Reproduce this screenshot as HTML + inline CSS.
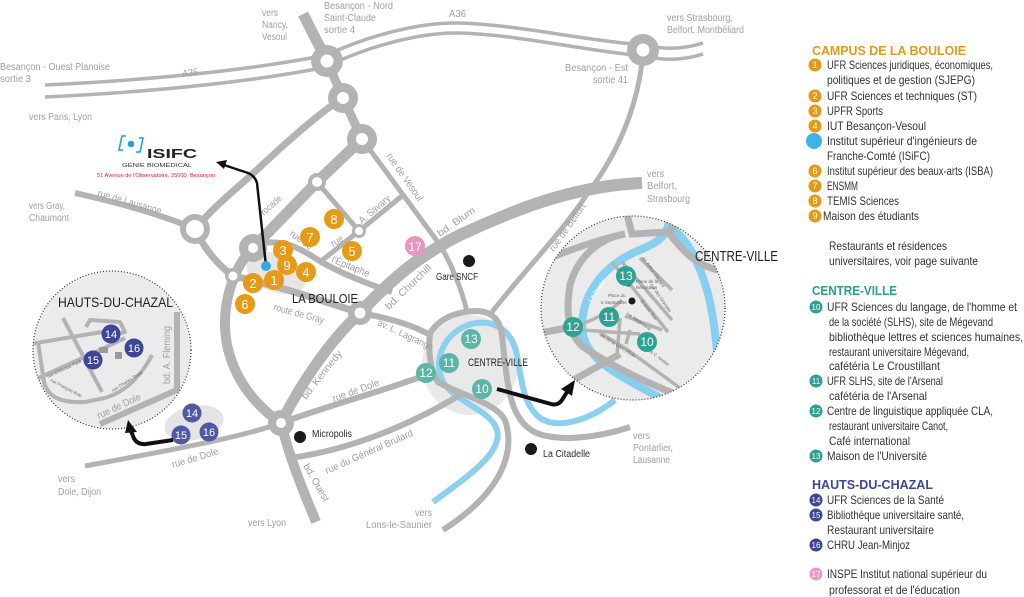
<!DOCTYPE html>
<html><head><meta charset="utf-8">
<style>
html,body{margin:0;padding:0;background:#fff;}
svg{display:block;}
text{font-family:"Liberation Sans",sans-serif;}
.g{fill:#a0a0a0;font-size:10px;}
.d{fill:#2a2a2a;font-size:10px;}
.lg{fill:#333;font-size:12px;}
.n{fill:#fff;text-anchor:middle;}
.t{font-size:4.5px;fill:#666;}
</style></head><body>
<svg width="1024" height="597" viewBox="0 0 1024 597" xmlns="http://www.w3.org/2000/svg">
<rect width="1024" height="597" fill="#fff"/>

<!-- blobs -->
<ellipse cx="470" cy="365" rx="48" ry="50" fill="#e9e9e9"/>
<ellipse cx="276" cy="273" rx="31" ry="19" transform="rotate(22 276 273)" fill="#e6e6e6"/>
<ellipse cx="194" cy="423" rx="30" ry="17" transform="rotate(-12 194 423)" fill="#e4e4e4"/>

<!-- river main -->
<path d="M433,502 C470,475 503,452 497,430 C491,410 455,402 443,382 C433,362 442,335 468,325 C493,317 512,330 517,355 C522,385 524,405 540,418 C558,430 590,420 615,400" fill="none" stroke="#8ccfef" stroke-width="6"/>

<!-- roads -->
<g fill="none" stroke="#b3b3b3" stroke-linejoin="round">
  <g stroke-width="3.5">
    <path d="M45,85 C150,80 250,70 327,55"/>
    <path d="M45,97 C150,92 250,82 327,67"/>
    <path d="M327,55 C370,35 420,22 460,23 C520,25 580,40 643,45"/>
    <path d="M327,66 C370,46 420,32 460,33 C520,35 580,50 643,56"/>
    <path d="M643,45 C665,50 685,49 703,43"/>
    <path d="M643,56 C665,61 685,60 703,54"/>
  </g>
  <path d="M303,14 L327,61" stroke-width="11"/>
  <path d="M327,61 L343,98 L362,139" stroke-width="9"/>
  <path d="M362,139 L317,182 L253,248" stroke-width="11"/>
  <path d="M253,248 C238,262 226,290 225,320 C224,355 240,395 281,423" stroke-width="10"/>
  <path d="M281,423 C290,460 305,495 316,522" stroke-width="10"/>
  <path d="M281,423 C300,385 330,340 360,313" stroke-width="11"/>
  <path d="M360,313 C390,280 420,255 460,235 C510,212 570,186 642,183" stroke-width="12"/>
  <path d="M343,98 C320,112 280,148 260,167 S215,205 198,226" stroke-width="7"/>
  <path d="M75,193 C120,203 160,214 195,229" stroke-width="6"/>
  <path d="M195,229 C205,250 218,265 233,276" stroke-width="7"/>
  <path d="M233,276 C275,285 320,300 360,313" stroke-width="7"/>
  <path d="M262,243 C285,240 300,248 318,260 C340,273 365,283 392,292" stroke-width="6"/>
  <path d="M317,182 L359,231" stroke-width="5"/>
  <path d="M359,231 L320,262" stroke-width="5"/>
  <path d="M359,231 L402,196" stroke-width="5"/>
  <path d="M362,139 L440,245 C452,265 462,290 467,312" stroke-width="5"/>
  <path d="M360,313 C390,318 415,326 432,336" stroke-width="6"/>
  <path d="M281,423 C330,405 380,392 426,375" stroke-width="6"/>
  <path d="M281,423 C240,438 160,452 85,466" stroke-width="5"/>
  <path d="M290,458 C350,450 410,425 460,395" stroke-width="6"/>
  <path d="M643,50 C640,100 620,150 590,190 C560,235 525,270 492,312" stroke-width="5"/>
  <path d="M430,333 C428,350 430,370 438,382 C460,395 495,402 505,420 C515,450 505,490 443,530" stroke-width="6"/>
  <path d="M430,333 C440,318 455,312 475,311 C492,311 500,320 502,335 C505,365 508,395 515,410 C525,432 540,438 570,438 C595,437 615,432 630,427" stroke-width="6"/>
</g>

<!-- roundabouts -->
<g fill="#b3b3b3">
  <circle cx="327" cy="61" r="16"/><circle cx="343" cy="98" r="15"/><circle cx="362" cy="139" r="15"/>
  <circle cx="643" cy="50" r="16"/><circle cx="317" cy="182" r="9"/><circle cx="195" cy="229" r="15"/>
  <circle cx="253" cy="248" r="14"/><circle cx="233" cy="276" r="8"/><circle cx="359" cy="231" r="7"/>
  <circle cx="360" cy="313" r="12"/><circle cx="281" cy="423" r="13"/>
</g>
<g fill="#fff">
  <circle cx="327" cy="61" r="6.5"/><circle cx="343" cy="98" r="6"/><circle cx="362" cy="139" r="6"/>
  <circle cx="643" cy="50" r="6.5"/><circle cx="317" cy="182" r="5"/><circle cx="195" cy="229" r="9"/>
  <circle cx="253" cy="248" r="5"/><circle cx="233" cy="276" r="4.5"/><circle cx="359" cy="231" r="4"/>
  <circle cx="360" cy="313" r="5.5"/><circle cx="281" cy="423" r="5"/>
</g>

<!-- map labels -->
<g class="g">
  <text x="262" y="16" textLength="16" lengthAdjust="spacingAndGlyphs">vers</text>
  <text x="262" y="28" textLength="26" lengthAdjust="spacingAndGlyphs">Nancy,</text>
  <text x="262" y="40" textLength="25" lengthAdjust="spacingAndGlyphs">Vesoul</text>
  <text x="324" y="9" textLength="69" lengthAdjust="spacingAndGlyphs">Besançon - Nord</text>
  <text x="324" y="21" textLength="52" lengthAdjust="spacingAndGlyphs">Saint-Claude</text>
  <text x="324" y="33" textLength="31" lengthAdjust="spacingAndGlyphs">sortie 4</text>
  <text x="449" y="17" textLength="17" lengthAdjust="spacingAndGlyphs">A36</text>
  <text x="182" y="76" textLength="16" lengthAdjust="spacingAndGlyphs" transform="rotate(-8 190 72)">A36</text>
  <text x="0" y="70" textLength="110" lengthAdjust="spacingAndGlyphs">Besançon - Ouest Planoise</text>
  <text x="0" y="82" textLength="31" lengthAdjust="spacingAndGlyphs">sortie 3</text>
  <text x="29" y="120" textLength="63" lengthAdjust="spacingAndGlyphs">vers Paris, Lyon</text>
  <text x="667" y="21" textLength="66" lengthAdjust="spacingAndGlyphs">vers Strasbourg,</text>
  <text x="667" y="33" textLength="77" lengthAdjust="spacingAndGlyphs">Belfort, Montbéliard</text>
  <text x="565" y="71" textLength="63" lengthAdjust="spacingAndGlyphs">Besançon - Est</text>
  <text x="593" y="83" textLength="35" lengthAdjust="spacingAndGlyphs">sortie 41</text>
  <text x="647" y="177" textLength="17" lengthAdjust="spacingAndGlyphs">vers</text>
  <text x="647" y="189" textLength="30" lengthAdjust="spacingAndGlyphs">Belfort,</text>
  <text x="647" y="202" textLength="43" lengthAdjust="spacingAndGlyphs">Strasbourg</text>
  <text x="29" y="209" textLength="36" lengthAdjust="spacingAndGlyphs">vers Gray,</text>
  <text x="29" y="221" textLength="40" lengthAdjust="spacingAndGlyphs">Chaumont</text>
  <text x="97" y="196" textLength="66" lengthAdjust="spacingAndGlyphs" transform="rotate(16 97 196)">rue de Lausanne</text>
  <text x="264" y="216" textLength="25" lengthAdjust="spacingAndGlyphs" transform="rotate(-42 264 216)">rocade</text>
  <text x="386" y="156" textLength="56" lengthAdjust="spacingAndGlyphs" transform="rotate(55 386 156)">rue de Vesoul</text>
  <text x="362" y="224" textLength="38" lengthAdjust="spacingAndGlyphs" transform="rotate(-40 362 224)">A. Savary</text>
  <text x="289" y="235" textLength="26" lengthAdjust="spacingAndGlyphs" transform="rotate(36 289 235)">rue de</text>
  <text x="333" y="247" textLength="13" lengthAdjust="spacingAndGlyphs" transform="rotate(-30 333 247)">rue</text>
  <text x="331" y="262" textLength="40" lengthAdjust="spacingAndGlyphs" transform="rotate(22 331 262)">l'Épitaphe</text>
  <text x="440" y="237" textLength="44" lengthAdjust="spacingAndGlyphs" transform="rotate(-35 440 237)">bd. Blum</text>
  <text x="554" y="252" textLength="56" lengthAdjust="spacingAndGlyphs" transform="rotate(-55 554 252)">rue de Belfort</text>
  <text x="389" y="310" textLength="60" lengthAdjust="spacingAndGlyphs" transform="rotate(-44 389 310)">bd. Churchill</text>
  <text x="377" y="325" textLength="60" lengthAdjust="spacingAndGlyphs" transform="rotate(25 377 325)">av. L. Lagrange</text>
  <text x="273" y="310" textLength="52" lengthAdjust="spacingAndGlyphs" transform="rotate(15 273 310)">route de Gray</text>
  <text x="306" y="400" textLength="59" lengthAdjust="spacingAndGlyphs" transform="rotate(-52 306 400)">bd. Kennedy</text>
  <text x="334" y="402" textLength="49" lengthAdjust="spacingAndGlyphs" transform="rotate(-20 334 402)">rue de Dole</text>
  <text x="327" y="474" textLength="95" lengthAdjust="spacingAndGlyphs" transform="rotate(-24 327 474)">rue du Général Brulard</text>
  <text x="303" y="466" textLength="42" lengthAdjust="spacingAndGlyphs" transform="rotate(60 303 466)">bd. Ouest</text>
  <text x="248" y="526" textLength="38" lengthAdjust="spacingAndGlyphs">vers Lyon</text>
  <text x="415" y="516" textLength="17" lengthAdjust="spacingAndGlyphs">vers</text>
  <text x="366" y="528" textLength="66" lengthAdjust="spacingAndGlyphs">Lons-le-Saunier</text>
  <text x="58" y="482" textLength="17" lengthAdjust="spacingAndGlyphs">vers</text>
  <text x="58" y="495" textLength="43" lengthAdjust="spacingAndGlyphs">Dole, Dijon</text>
  <text x="173" y="468" textLength="48" lengthAdjust="spacingAndGlyphs" transform="rotate(-17 173 468)">rue de Dole</text>
  <text x="633" y="439" textLength="17" lengthAdjust="spacingAndGlyphs">vers</text>
  <text x="633" y="451" textLength="40" lengthAdjust="spacingAndGlyphs">Pontarlier,</text>
  <text x="633" y="463" textLength="37" lengthAdjust="spacingAndGlyphs">Lausanne</text>
</g>

<!-- black place dots -->
<g fill="#1a1a1a">
  <circle cx="469" cy="261" r="6"/><circle cx="300" cy="437" r="6"/><circle cx="531" cy="449" r="6"/>
</g>
<text class="d" x="436" y="280" textLength="42" lengthAdjust="spacingAndGlyphs">Gare SNCF</text>
<text class="d" x="312" y="437" textLength="40" lengthAdjust="spacingAndGlyphs">Micropolis</text>
<text class="d" x="543" y="457" textLength="47" lengthAdjust="spacingAndGlyphs">La Citadelle</text>
<text x="292" y="303" fill="#222" font-size="13" textLength="66" lengthAdjust="spacingAndGlyphs">LA BOULOIE</text>
<text x="468" y="366" fill="#222" font-size="11" textLength="60" lengthAdjust="spacingAndGlyphs">CENTRE-VILLE</text>

<!-- ISIFC logo -->
<path d="M126,136 L122,136 L119,150 L123,150" fill="none" stroke="#1da1d8" stroke-width="1.6"/>
<path d="M139,138 L143,138 L140,152 L136,152" fill="none" stroke="#1da1d8" stroke-width="1.6"/>
<circle cx="131" cy="144" r="3.3" fill="#1da1d8"/>
<text x="147" y="158" font-size="13" font-weight="bold" fill="#222" textLength="50" lengthAdjust="spacingAndGlyphs">ISIFC</text>
<text x="122" y="167" font-size="5.5" fill="#333" textLength="70" lengthAdjust="spacingAndGlyphs">GÉNIE BIOMÉDICAL</text>
<text x="97" y="177" font-size="5.5" fill="#e41e26" textLength="118" lengthAdjust="spacingAndGlyphs">51 Avenue de l'Observatoire, 25000, Besançon</text>

<!-- ISIFC arrow -->
<path d="M266,266 L257,183 Q255,176 248,173 L224,165" fill="none" stroke="#111" stroke-width="2.5"/>
<polygon points="216,162 227,160 224,169" fill="#111"/>
<circle cx="266" cy="266" r="5" fill="#31a9e0"/>

<!-- orange campus circles -->
<g fill="#e69a17">
  <circle cx="334" cy="219" r="10"/><circle cx="310" cy="237" r="10"/><circle cx="283" cy="250" r="10"/>
  <circle cx="352" cy="251" r="10"/><circle cx="306" cy="272" r="10"/><circle cx="287" cy="265" r="10"/>
  <circle cx="253" cy="283" r="10"/><circle cx="274" cy="280" r="10"/><circle cx="245" cy="304" r="10"/>
</g>
<g class="n" font-size="13">
  <text x="334" y="224">8</text><text x="310" y="242">7</text><text x="283" y="255">3</text>
  <text x="352" y="256">5</text><text x="306" y="277">4</text><text x="287" y="270">9</text>
  <text x="253" y="288">2</text><text x="274" y="285">1</text><text x="245" y="309">6</text>
</g>
<circle cx="415" cy="246" r="10" fill="#e895c0"/>
<text class="n" x="415" y="251" font-size="12">17</text>

<!-- teal centre circles -->
<g fill="#5bb6a8">
  <circle cx="471" cy="339" r="10"/><circle cx="449" cy="363" r="10"/><circle cx="426" cy="373" r="10"/><circle cx="482" cy="389" r="10"/>
</g>
<g class="n" font-size="12">
  <text x="471" y="343">13</text><text x="449" y="367">11</text><text x="426" y="377">12</text><text x="482" y="393">10</text>
</g>

<!-- navy hauts circles -->
<g fill="#5058a8">
  <circle cx="192" cy="413" r="9.5"/><circle cx="181" cy="435" r="9.5"/><circle cx="209" cy="432" r="9.5"/>
</g>
<g class="n" font-size="11">
  <text x="192" y="417">14</text><text x="181" y="439">15</text><text x="209" y="436">16</text>
</g>

<!-- Centre-ville inset -->
<defs>
  <clipPath id="cc"><circle cx="633" cy="308" r="92"/></clipPath>
  <clipPath id="ch"><circle cx="112" cy="350" r="79"/></clipPath>
</defs>
<circle cx="633" cy="308" r="92" fill="#ebebeb"/>
<g clip-path="url(#cc)" fill="none">
  <path d="M667,402 C630,380 590,365 583,335 C578,300 600,268 635,252 C655,244 665,238 668,226 C686,236 698,260 707,290 C715,320 716,345 719,368" stroke="#86cff0" stroke-width="8"/>
  <g stroke="#b3b3b3" stroke-width="7">
    <path d="M540,262 C565,252 595,240 625,234"/>
    <path d="M625,234 C600,238 578,256 570,285 C565,315 570,335 582,346 C605,362 640,380 680,396"/>
    <path d="M626,210 L632,234 L668,232 L688,212"/>
    <path d="M668,232 C682,250 695,265 718,270"/>
    <path d="M540,333 L572,327"/>
    <path d="M570,382 L620,354"/>
  </g>
  <g stroke="#b3b3b3" stroke-width="3.5">
    <path d="M612,262 L668,332"/>
    <path d="M622,262 L672,320"/>
    <path d="M640,258 L672,290"/>
    <path d="M582,330 L640,334"/>
    <path d="M600,333 L625,348 L680,388"/>
    <path d="M620,318 L617,356"/>
    <path d="M625,316 L662,330"/>
    <path d="M630,330 L626,344"/>
    <path d="M573,327 C590,322 610,312 622,300"/>
  </g>
</g>
<circle cx="633" cy="308" r="92" fill="none" stroke="#333" stroke-width="1.2" stroke-dasharray="1 2"/>
<circle cx="628" cy="283" r="3.5" fill="#1a1a1a"/>
<circle cx="632" cy="301" r="3.5" fill="#1a1a1a"/>
<text class="t" x="636" y="283">Place de la</text>
<text class="t" x="636" y="289">Révolution</text>
<text class="t" x="608" y="297">Place du</text>
<text class="t" x="601" y="304">8 Septembre</text>
<text class="t" x="642" y="258" transform="rotate(55 642 258)">av. Arthur Gaulard</text>
<text class="t" x="650" y="285" transform="rotate(55 650 285)">rue des Granges</text>
<text class="t" x="640" y="301" transform="rotate(52 640 301)">Grande Rue</text>
<text class="t" x="626" y="314" transform="rotate(35 626 314)">rue Mégevand</text>
<text class="t" x="600" y="336" transform="rotate(32 600 336)">av. de la Gare d'Eau</text>
<text class="t" x="647" y="350" transform="rotate(38 647 350)">rue C. Nodier</text>
<text x="591" y="302" font-size="6" fill="#fff" transform="rotate(-55 591 302)">Le Doubs</text>
<text x="695" y="261" fill="#222" font-size="15" textLength="83" lengthAdjust="spacingAndGlyphs">CENTRE-VILLE</text>
<g fill="#2ea394">
  <circle cx="626" cy="276" r="10"/><circle cx="609" cy="317" r="10"/><circle cx="573" cy="327" r="10"/><circle cx="647" cy="342" r="10"/>
</g>
<g class="n" font-size="12">
  <text x="626" y="280">13</text><text x="609" y="321">11</text><text x="573" y="331">12</text><text x="647" y="346">10</text>
</g>

<!-- centre arrow -->
<path d="M497,389 L551,404 Q558,406 562,400 L567,392" fill="none" stroke="#111" stroke-width="4"/>
<polygon points="575,380 572,396 561,389" fill="#111"/>

<!-- Hauts-du-Chazal inset -->
<circle cx="112" cy="350" r="79" fill="#ebebeb"/>
<g clip-path="url(#ch)" fill="none" stroke="#b3b3b3" stroke-width="4" stroke-linejoin="round">
  <path d="M30,344 L102,332"/>
  <path d="M63,318 L102,392"/>
  <path d="M38,342 L44,382 C48,398 62,403 85,402 L105,398"/>
  <path d="M30,382 L100,350 L125,338"/>
  <path d="M105,398 C125,392 140,378 152,355"/>
  <path d="M86,327 L90,320 L120,322 L125,332 L108,337"/>
  <path d="M177,312 L177,390 L100,424" stroke-width="6"/>
</g>
<rect x="99" y="347" width="9" height="6" fill="#9a9a9a"/>
<rect x="115" y="352" width="7" height="7" fill="#9a9a9a"/>
<text class="t" x="48" y="378" transform="rotate(-25 48 378)">rue Ambroise Paré</text>
<text class="t" x="50" y="381" transform="rotate(28 50 381)">rue François Bolo</text>
<text class="t" x="113" y="392" transform="rotate(-32 113 392)">rue Charles Bried</text>
<text class="g" x="170" y="384" textLength="58" lengthAdjust="spacingAndGlyphs" transform="rotate(-90 170 384)">bd. A. Fleming</text>
<text class="g" x="99" y="419" textLength="47" lengthAdjust="spacingAndGlyphs" transform="rotate(-25 99 419)">rue de Dole</text>
<circle cx="112" cy="350" r="79" fill="none" stroke="#333" stroke-width="1.2" stroke-dasharray="1 2"/>
<text x="58" y="307" fill="#222" font-size="14" textLength="115" lengthAdjust="spacingAndGlyphs">HAUTS-DU-CHAZAL</text>
<g fill="#3c4697">
  <circle cx="111" cy="334" r="9.5"/><circle cx="93" cy="360" r="9.5"/><circle cx="134" cy="348" r="9.5"/>
</g>
<g class="n" font-size="11">
  <text x="111" y="338">14</text><text x="93" y="364">15</text><text x="134" y="352">16</text>
</g>

<!-- hauts arrow -->
<path d="M173,440 L146,444 Q136,445 133,436 L131,431" fill="none" stroke="#111" stroke-width="4"/>
<polygon points="128,420 137,432 125,433" fill="#111"/>

<!-- LEGEND -->
<text x="812" y="55" font-size="13" font-weight="bold" fill="#e39a1c" textLength="154" lengthAdjust="spacingAndGlyphs">CAMPUS DE LA BOULOIE</text>
<g fill="#e39a17">
  <circle cx="815" cy="65" r="6.5"/><circle cx="815" cy="96" r="6.5"/><circle cx="815" cy="111" r="6.5"/>
  <circle cx="815" cy="126" r="6.5"/><circle cx="815" cy="171" r="6.5"/><circle cx="815" cy="186" r="6.5"/>
  <circle cx="815" cy="201" r="6.5"/><circle cx="815" cy="216" r="6.5"/>
</g>
<circle cx="814" cy="141" r="8" fill="#3fb2e8"/>
<g class="n" font-size="9">
  <text x="815" y="68">1</text><text x="815" y="99">2</text><text x="815" y="114">3</text><text x="815" y="129">4</text>
  <text x="815" y="174">6</text><text x="815" y="189">7</text><text x="815" y="204">8</text><text x="815" y="219">9</text>
</g>
<g class="lg">
  <text x="827" y="69" textLength="166" lengthAdjust="spacingAndGlyphs">UFR Sciences juridiques, économiques,</text>
  <text x="827" y="84" textLength="148" lengthAdjust="spacingAndGlyphs">politiques et de gestion (SJEPG)</text>
  <text x="827" y="100" textLength="150" lengthAdjust="spacingAndGlyphs">UFR Sciences et techniques (ST)</text>
  <text x="827" y="115" textLength="56" lengthAdjust="spacingAndGlyphs">UPFR Sports</text>
  <text x="827" y="130" textLength="99" lengthAdjust="spacingAndGlyphs">IUT Besançon-Vesoul</text>
  <text x="827" y="145" textLength="150" lengthAdjust="spacingAndGlyphs">Institut supérieur d'ingénieurs de</text>
  <text x="827" y="160" textLength="103" lengthAdjust="spacingAndGlyphs">Franche-Comté (ISiFC)</text>
  <text x="827" y="175" textLength="166" lengthAdjust="spacingAndGlyphs">Institut supérieur des beaux-arts (ISBA)</text>
  <text x="827" y="190" textLength="31" lengthAdjust="spacingAndGlyphs">ENSMM</text>
  <text x="827" y="205" textLength="72" lengthAdjust="spacingAndGlyphs">TEMIS Sciences</text>
  <text x="823" y="220" textLength="96" lengthAdjust="spacingAndGlyphs">Maison des étudiants</text>
  <text x="829" y="250" textLength="118" lengthAdjust="spacingAndGlyphs">Restaurants et résidences</text>
  <text x="829" y="265" textLength="149" lengthAdjust="spacingAndGlyphs">universitaires, voir page suivante</text>
</g>

<text x="812" y="295" font-size="13" font-weight="bold" fill="#2d9d8f" textLength="85" lengthAdjust="spacingAndGlyphs">CENTRE-VILLE</text>
<g fill="#2e9f91">
  <circle cx="816" cy="307" r="6.5"/><circle cx="816" cy="381" r="6.5"/><circle cx="816" cy="411" r="6.5"/><circle cx="816" cy="456" r="6.5"/>
</g>
<g class="n" font-size="8">
  <text x="816" y="310">10</text><text x="816" y="384">11</text><text x="816" y="414">12</text><text x="816" y="459">13</text>
</g>
<g class="lg">
  <text x="827" y="311" textLength="190" lengthAdjust="spacingAndGlyphs">UFR Sciences du langage, de l'homme et</text>
  <text x="829" y="326" textLength="164" lengthAdjust="spacingAndGlyphs">de la société (SLHS), site de Mégevand</text>
  <text x="829" y="341" textLength="194" lengthAdjust="spacingAndGlyphs">bibliothèque lettres et sciences humaines,</text>
  <text x="829" y="356" textLength="140" lengthAdjust="spacingAndGlyphs">restaurant universitaire Mégevand,</text>
  <text x="829" y="370" textLength="111" lengthAdjust="spacingAndGlyphs">cafétéria Le Croustillant</text>
  <text x="827" y="385" textLength="116" lengthAdjust="spacingAndGlyphs">UFR SLHS, site de l'Arsenal</text>
  <text x="829" y="400" textLength="98" lengthAdjust="spacingAndGlyphs">cafétéria de l'Arsenal</text>
  <text x="827" y="415" textLength="166" lengthAdjust="spacingAndGlyphs">Centre de linguistique appliquée CLA,</text>
  <text x="829" y="430" textLength="119" lengthAdjust="spacingAndGlyphs">restaurant universitaire Canot,</text>
  <text x="829" y="445" textLength="81" lengthAdjust="spacingAndGlyphs">Café international</text>
  <text x="827" y="460" textLength="100" lengthAdjust="spacingAndGlyphs">Maison de l'Université</text>
</g>

<text x="812" y="489" font-size="13" font-weight="bold" fill="#3e4698" textLength="121" lengthAdjust="spacingAndGlyphs">HAUTS-DU-CHAZAL</text>
<g fill="#3b4798">
  <circle cx="816" cy="500" r="6.5"/><circle cx="816" cy="515" r="6.5"/><circle cx="816" cy="545" r="6.5"/>
</g>
<circle cx="816" cy="574" r="6.5" fill="#e89ac4"/>
<g class="n" font-size="8">
  <text x="816" y="503">14</text><text x="816" y="518">15</text><text x="816" y="548">16</text><text x="816" y="577">17</text>
</g>
<g class="lg">
  <text x="827" y="504" textLength="117" lengthAdjust="spacingAndGlyphs">UFR Sciences de la Santé</text>
  <text x="827" y="519" textLength="137" lengthAdjust="spacingAndGlyphs">Bibliothèque universitaire santé,</text>
  <text x="827" y="534" textLength="107" lengthAdjust="spacingAndGlyphs">Restaurant universitaire</text>
  <text x="827" y="549" textLength="83" lengthAdjust="spacingAndGlyphs">CHRU Jean-Minjoz</text>
  <text x="827" y="578" textLength="160" lengthAdjust="spacingAndGlyphs">INSPE Institut national supérieur du</text>
  <text x="829" y="594" textLength="131" lengthAdjust="spacingAndGlyphs">professorat et de l'éducation</text>
</g>
</svg>
</body></html>
